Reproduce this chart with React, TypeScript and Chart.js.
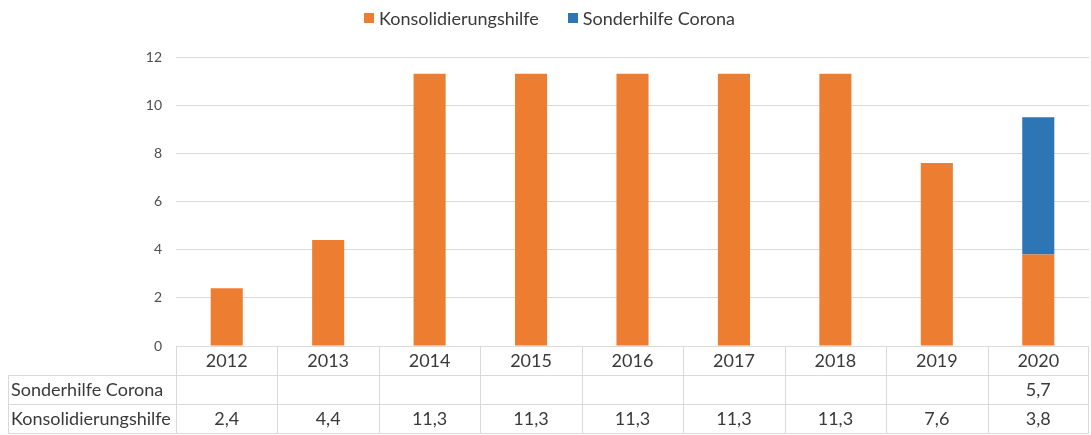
import React, { useEffect, useRef } from "react";
import { Chart, registerables } from "chart.js";

Chart.register(...registerables);

const years = ["2012", "2013", "2014", "2015", "2016", "2017", "2018", "2019", "2020"];
const konsolidierungshilfe = [2.4, 4.4, 11.3, 11.3, 11.3, 11.3, 11.3, 7.6, 3.8];
const sonderhilfeCorona: (number | null)[] = [null, null, null, null, null, null, null, null, 5.7];
const seriesNames = ["Konsolidierungshilfe", "Sonderhilfe Corona"];
const seriesColors = ["#ED7D31", "#2E75B6"];
const yMin = 0;
const yMax = 12;
const yStep = 2;

const FONT = "Lato, 'Open Sans', sans-serif";
const TEXT = "#3A3A3A";
const GRID = "#D9D9D9";

const fmt = (v: number | null | undefined) =>
  v === null || v === undefined ? "" : v.toFixed(1).replace(".", ",");

const legendPlugin = {
  id: "customLegend",
  afterDraw(chart: any) {
    const ctx = chart.ctx;
    const items = chart.data.datasets.map((ds: any) => ({ label: ds.label, color: ds.backgroundColor }));
    ctx.save();
    ctx.font = `18px ${FONT}`;
    const box = 10;
    const gapText = 5;
    const gapItem = 29;
    const widths = items.map((it: any) => box + gapText + ctx.measureText(it.label).width);
    const total = widths.reduce((a: number, b: number) => a + b, 0) + gapItem * (items.length - 1);
    let x = chart.width / 2 + 4 - total / 2;
    const cy = 18;
    items.forEach((it: any, i: number) => {
      ctx.fillStyle = it.color;
      ctx.fillRect(Math.round(x), cy - 5, box, box);
      ctx.fillStyle = TEXT;
      ctx.textBaseline = "middle";
      ctx.textAlign = "left";
      ctx.fillText(it.label, x + box + gapText, cy + 1);
      x += widths[i] + gapItem;
    });
    ctx.restore();
  },
};

const tablePlugin = {
  id: "dataTable",
  afterDraw(chart: any) {
    const { ctx, chartArea } = chart;
    const xs = chart.scales.x;
    const labels = chart.data.labels as string[];
    const n = labels.length;
    const catW = (chartArea.right - chartArea.left) / n;
    const rowH = 29;
    const top = chartArea.bottom;
    const rows = [...chart.data.datasets].reverse();
    const nRows = rows.length + 1;
    const bottom = top + rowH * nRows;
    const tableLeft = 8;
    const px = (v: number) => Math.round(v) + 0.5;

    ctx.save();
    ctx.strokeStyle = GRID;
    ctx.lineWidth = 1;
    ctx.beginPath();
    ctx.moveTo(chartArea.left, px(top));
    ctx.lineTo(chartArea.right, px(top));
    for (let r = 1; r <= nRows; r++) {
      const y = px(top + r * rowH);
      ctx.moveTo(tableLeft, y);
      ctx.lineTo(chartArea.right, y);
    }
    for (let i = 0; i <= n; i++) {
      const x = px(chartArea.left + i * catW) - (i === n ? 1 : 0);
      ctx.moveTo(x, top);
      ctx.lineTo(x, bottom);
    }
    ctx.moveTo(px(tableLeft), top + rowH);
    ctx.lineTo(px(tableLeft), bottom);
    ctx.stroke();

    ctx.font = `18px ${FONT}`;
    ctx.fillStyle = TEXT;
    ctx.textBaseline = "middle";
    ctx.textAlign = "center";
    labels.forEach((lab, i) => {
      const cx = xs.getPixelForValue(i);
      ctx.fillText(lab, cx, top + rowH / 2 + 1);
    });
    rows.forEach((ds: any, r: number) => {
      const cy = top + rowH * (r + 1) + rowH / 2 + 1;
      ctx.textAlign = "left";
      ctx.fillText(ds.label, tableLeft + 3, cy);
      ctx.textAlign = "center";
      ds.data.forEach((v: number | null, i: number) => {
        const cx = xs.getPixelForValue(i);
        ctx.fillText(fmt(v), cx, cy);
      });
    });
    ctx.restore();
  },
};

export default function App() {
  const ref = useRef<HTMLCanvasElement | null>(null);

  useEffect(() => {
    document.body.style.margin = "0";
    if (!ref.current) return;
    const chart = new Chart(ref.current, {
      type: "bar",
      data: {
        labels: years,
        datasets: [
          {
            label: seriesNames[0],
            data: konsolidierungshilfe,
            backgroundColor: seriesColors[0],
            barPercentage: 0.316,
            categoryPercentage: 1,
          },
          {
            label: seriesNames[1],
            data: sonderhilfeCorona,
            backgroundColor: seriesColors[1],
            barPercentage: 0.316,
            categoryPercentage: 1,
          },
        ],
      },
      options: {
        responsive: false,
        animation: false,
        devicePixelRatio: 1,
        layout: { padding: { top: 57, bottom: 89, left: 0, right: 2 } },
        plugins: {
          legend: { display: false },
          tooltip: { enabled: false },
        },
        scales: {
          x: {
            display: false,
            stacked: true,
            grid: { display: false },
          },
          y: {
            stacked: true,
            min: yMin,
            max: yMax,
            ticks: { stepSize: yStep, padding: 14, color: "#505050", font: { family: FONT, size: 14 } },
            grid: { color: GRID, drawTicks: false },
            border: { display: false },
            afterFit(scale: any) {
              scale.width = 176;
            },
          },
        },
      },
      plugins: [legendPlugin, tablePlugin],
    });
    return () => chart.destroy();
  }, []);

  return (
    <div style={{ width: 1091, height: 435 }}>
      <canvas ref={ref} width={1091} height={435} style={{ display: "block" }} />
    </div>
  );
}
